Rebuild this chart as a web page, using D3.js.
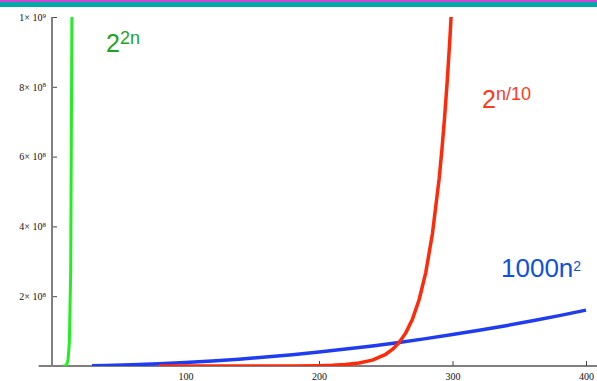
<!DOCTYPE html>
<html>
<head>
<meta charset="utf-8">
<script src="https://cdn.jsdelivr.net/npm/d3@7"></script>
<style>
  body { margin: 0; background: #fff; }
  svg { display: block; }
  .tick text { font-family: "Liberation Serif", "DejaVu Serif", serif; font-size: 10px; fill: #111; }
  .lbl { font-family: "Liberation Sans", Arial, sans-serif; }
</style>
</head>
<body>
<svg id="chart" width="597" height="381"></svg>
<script>

// values: n and f(n)
var greenN = [ 8, 9, 10, 11, 12, 13, 14, 15 ];
var greenV = [ 65536, 262144, 1048576, 4194304, 16777216, 67108864, 268435456, 1073741824 ];

var redN = [ 80, 100, 120, 140, 160, 180, 200, 210, 220, 230, 240, 250, 255, 260, 265, 270, 275, 280, 285, 290, 292, 294, 296, 298, 300 ];
var redV = [ 256, 1024, 4096, 16384, 65536, 262144, 1048576, 2097152, 4194304, 8388608, 16777216, 33554432, 47453133, 67108864, 94906266, 134217728, 189812531, 268435456, 379625062, 536870912, 616700000, 708400000, 813700000, 934700000, 1073741824 ];

var blueN = [ 30, 40, 60, 80, 100, 120, 140, 160, 180, 200, 220, 240, 260, 280, 300, 320, 340, 360, 380, 400 ];
var blueV = [ 900000, 1600000, 3600000, 6400000, 10000000, 14400000, 19600000, 25600000, 32400000, 40000000, 48400000, 57600000, 67600000, 78400000, 90000000, 102400000, 115600000, 129600000, 144400000, 160000000 ];

var xMajor = [ 100, 200, 300, 400 ];
var yMajor = [ 2e8, 4e8, 6e8, 8e8, 1e9 ];
var yLabels = [ [ '2', '8' ], [ '4', '8' ], [ '6', '8' ], [ '8', '8' ], [ '1', '9' ] ];

var svg = d3.select('#chart');

// top band
svg.append('rect').attr('x', 0).attr('y', 0).attr('width', 597).attr('height', 2).attr('fill', '#d046d0');
svg.append('rect').attr('x', 0).attr('y', 2).attr('width', 597).attr('height', 5).attr('fill', '#00a8a8');

var x = d3.scaleLinear().domain([ 0, 400 ]).range([ 52, 586 ]);
var y = d3.scaleLinear().domain([ 0, 1e9 ]).range([ 366, 17 ]);

svg.append('defs').append('clipPath').attr('id', 'plot')
    .append('rect')
    .attr('x', x(-10)).attr('y', y(1e9))
    .attr('width', 597 - x(-10)).attr('height', y(0) - y(1e9));

// x axis
var xMinor = d3.range(20, 401, 20).filter(function ( d ) { return d % 100 !== 0; });

var gx = svg.append('g').attr('transform', 'translate(0,' + y(0) + ')');

gx.call(d3.axisBottom(x).tickValues(xMinor).tickSizeInner(-3).tickSizeOuter(0).tickFormat(''));
gx.call(d3.axisBottom(x).tickValues(xMajor).tickSizeInner(-5).tickSizeOuter(0).tickPadding(7).tickFormat(d3.format('d')));
gx.selectAll('.domain').remove();
gx.selectAll('.tick line').attr('stroke', '#444');

svg.append('line')
    .attr('x1', x(-10)).attr('x2', 597)
    .attr('y1', y(0)).attr('y2', y(0))
    .attr('stroke', '#555').attr('stroke-width', 1.5);

// y axis
var yMinor = d3.range(5e7, 1e9, 5e7).filter(function ( d ) { return Math.round(d / 5e7) % 4 !== 0; });

var gy = svg.append('g').attr('transform', 'translate(' + x(0) + ',0)');

gy.call(d3.axisLeft(y).tickValues(yMinor).tickSizeInner(-3).tickSizeOuter(0).tickFormat(''));
gy.call(d3.axisLeft(y).tickValues(yMajor).tickSizeInner(-5).tickSizeOuter(0).tickPadding(6).tickFormat(''));
gy.selectAll('.domain').remove();
gy.selectAll('.tick line').attr('stroke', '#444');

gy.selectAll('.tick text').each(function ( d ) {
    var i = yMajor.indexOf(d);
    if ( i < 0 ) return;
    var t = d3.select(this);
    t.append('tspan').text(yLabels[i][0] + '\u00D7 10');
    t.append('tspan').attr('dy', '-0.45em').attr('font-size', '7px').text(yLabels[i][1]);
});

svg.append('line')
    .attr('x1', x(0)).attr('x2', x(0))
    .attr('y1', y(1e9)).attr('y2', y(0))
    .attr('stroke', '#808080').attr('stroke-width', 2);

// curves
var line = d3.line()
    .x(function ( d ) { return x(d[0]); })
    .y(function ( d ) { return y(d[1]); });

var curves = svg.append('g').attr('clip-path', 'url(#plot)');

function draw ( ns, vs, colour, w ) {
    curves.append('path')
        .datum(d3.zip(ns, vs))
        .attr('d', line)
        .attr('fill', 'none')
        .attr('stroke', colour)
        .attr('stroke-width', w)
        .attr('stroke-linejoin', 'round');
}

draw(blueN, blueV, '#1f3cf0', 3.5);
draw(redN, redV, '#ff2a0a', 3.5);
draw(greenN, greenV, '#22ee22', 3);

// labels
function label ( px, py, base, sup, colour, size, supSize ) {
    var t = svg.append('text')
        .attr('class', 'lbl')
        .attr('x', px).attr('y', py)
        .attr('fill', colour)
        .attr('font-size', size + 'px');
    t.append('tspan').text(base);
    t.append('tspan').attr('dy', '-0.45em').attr('font-size', supSize + 'px').text(sup);
}

label(106, 52, '2', '2n', '#1ea51e', 25, 18);
label(482, 108, '2', 'n/10', '#ff3a1a', 25, 18);
label(501, 277, '1000n', '2', '#1050e0', 26, 14);

</script>
</body>
</html>
